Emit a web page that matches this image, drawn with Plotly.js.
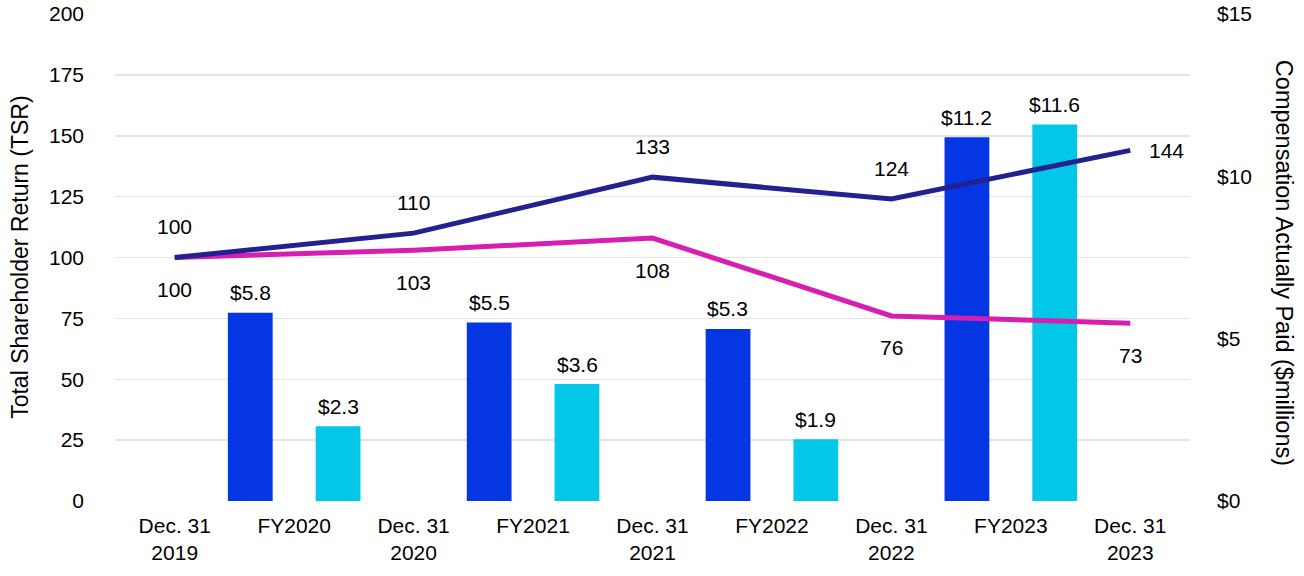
<!DOCTYPE html>
<html>
<head>
<meta charset="utf-8">
<script src="https://cdn.plot.ly/plotly-3.0.1.min.js"></script>
<style>html,body{margin:0;padding:0;background:#fff;}#chart{width:1304px;height:576px;}</style>
</head>
<body>
<div id="chart"></div>
<script>
// Categories (x axis order)
const categories = ['Dec. 31<br>2019','FY2020','Dec. 31<br>2020','FY2021','Dec. 31<br>2021','FY2022','Dec. 31<br>2022','FY2023','Dec. 31<br>2023'];
// TSR line data (points at year ends)
const tsrDates = ['Dec. 31<br>2019','Dec. 31<br>2020','Dec. 31<br>2021','Dec. 31<br>2022','Dec. 31<br>2023'];
const companyTSR = [100, 110, 133, 124, 144];
const peerTSR = [100, 103, 108, 76, 73];
// Compensation Actually Paid ($ millions)
const fiscalYears = ['FY2020','FY2021','FY2022','FY2023'];
const capPEO = [5.8, 5.5, 5.3, 11.2];
const capOther = [2.3, 3.6, 1.9, 11.6];

const FONT = 'Liberation Sans, Arial, sans-serif';
const FS = 21;
const navy = '#22218e';
const pink = '#d81eb0';
const blue = '#0437e3';
const cyan = '#02c7e6';

const traces = [
  {type:'bar', x:fiscalYears, y:capPEO, yaxis:'y', marker:{color:blue},
   width:0.375, offset:-0.555, hoverinfo:'skip'},
  {type:'bar', x:fiscalYears, y:capOther, yaxis:'y', marker:{color:cyan},
   width:0.375, offset:0.18, hoverinfo:'skip'},
  {type:'scatter', mode:'lines', x:tsrDates, y:peerTSR, yaxis:'y2', line:{color:pink,width:5}, cliponaxis:false},
  {type:'scatter', mode:'lines', x:tsrDates, y:companyTSR, yaxis:'y2', line:{color:navy,width:5}, cliponaxis:false}
];

const lbl = {family:FONT,size:FS,color:'#000'};
const annotations = [];
companyTSR.forEach((v,i)=>{
  const last = i === companyTSR.length-1;
  annotations.push({x:tsrDates[i], y:v, xref:'x', yref:'y2', text:String(v), showarrow:false,
    xshift: last ? 36 : 0, yshift: last ? 0 : 31, font:lbl});
});
peerTSR.forEach((v,i)=>{
  annotations.push({x:tsrDates[i], y:v, xref:'x', yref:'y2', text:String(v), showarrow:false,
    yshift:-32, font:lbl});
});
fiscalYears.forEach((fy,i)=>{
  annotations.push({x:fy, y:capPEO[i], xref:'x', yref:'y', text:'$'+capPEO[i].toFixed(1), showarrow:false,
    xshift:-44, yshift:20, yanchor:'middle', font:lbl});
  annotations.push({x:fy, y:capOther[i], xref:'x', yref:'y', text:'$'+capOther[i].toFixed(1), showarrow:false,
    xshift:44, yshift:20, yanchor:'middle', font:lbl});
});
annotations.push({xref:'paper', yref:'paper', x:-0.089, y:0.5, xanchor:'center', yanchor:'middle',
  text:'Total Shareholder Return (TSR)', textangle:-90, showarrow:false, font:{family:FONT,size:23,color:'#000'}});
annotations.push({xref:'paper', yref:'paper', x:1.087, y:0.49, xanchor:'center', yanchor:'middle',
  text:'Compensation Actually Paid ($millions)', textangle:90, showarrow:false, font:{family:FONT,size:23.5,color:'#000'}});

const layout = {
  width:1304, height:576,
  margin:{l:115, r:114, t:14, b:75},
  paper_bgcolor:'#fff', plot_bgcolor:'#fff',
  showlegend:false,
  barmode:'overlay',
  font:{family:FONT, size:FS, color:'#000'},
  xaxis:{type:'category', categoryorder:'array', categoryarray:categories, range:[-0.5,8.5],
    showgrid:false, zeroline:false, showline:false, ticks:'', ticklabelstandoff:10,
    tickfont:{family:FONT,size:FS,color:'#000'}},
  yaxis:{side:'right', range:[0,15], tickvals:[0,5,10,15], ticktext:['$0','$5','$10','$15'],
    showgrid:false, zeroline:false, showline:false, ticks:'', ticklabelstandoff:26,
    tickfont:{family:FONT,size:FS,color:'#000'}},
  yaxis2:{side:'left', overlaying:'y', range:[0,200], dtick:25, tick0:0,
    showgrid:true, gridcolor:'#e4e4e4', gridwidth:1.5, zeroline:false, showline:false, ticks:'',
    ticklabelstandoff:30, tickfont:{family:FONT,size:FS,color:'#000'}},
  annotations:annotations
};

Plotly.newPlot('chart', traces, layout, {displayModeBar:false, staticPlot:true});
</script>
</body>
</html>
